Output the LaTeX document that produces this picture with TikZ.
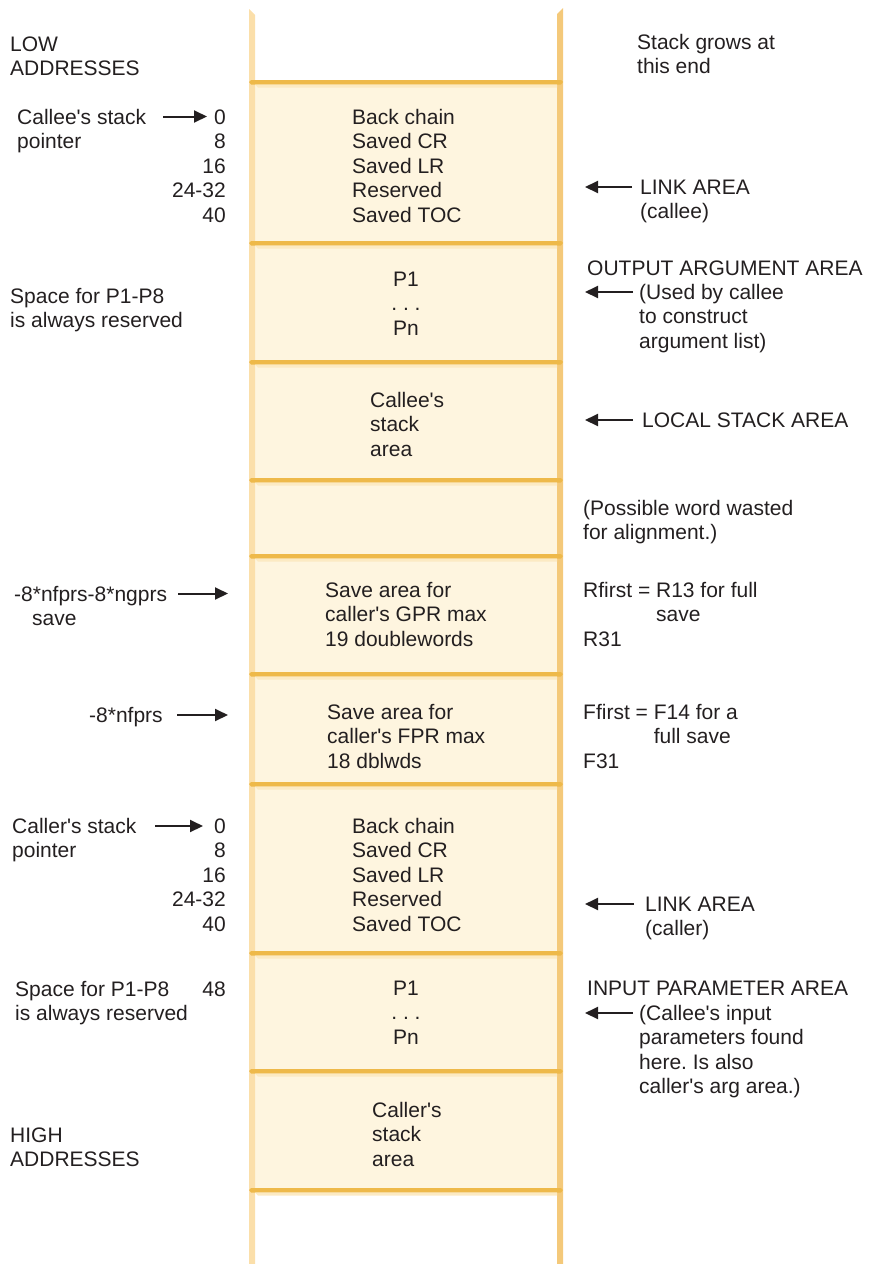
\documentclass[tikz,border=0pt]{standalone}
\usepackage{fontspec}
\newfontfamily\helv{Liberation Sans}
\usetikzlibrary{arrows.meta}
\definecolor{ink}{HTML}{231F20}
\definecolor{bandgold}{HTML}{EEB94A}
\definecolor{bandlight}{HTML}{FCEAC3}
\definecolor{cream}{HTML}{FEF5DF}
\definecolor{stripl}{HTML}{FBDFAA}
\definecolor{stripr}{HTML}{F4C97A}
\frenchspacing
\begin{document}
\begin{tikzpicture}[x=1pt,y=-1pt,
  txt/.style={inner sep=0pt, font=\helv\frenchspacing\fontsize{21}{24.5}\selectfont, text=ink, align=left, anchor=base west},
  rtxt/.style={txt, align=right, anchor=base east},
  ctxt/.style={txt, align=center, anchor=base},
  nl/.style={yshift=-#1*24.5pt},
  arr/.style={draw=ink, line width=2pt, -{Triangle[length=13pt,width=12pt]}}]
\useasboundingbox (0,0) rectangle (869,1264);
% ---- stack column ----
\foreach \t/\b in {84/241, 245/360, 364/478, 482/554, 558/672, 676/782, 786/951, 955/1069, 1073/1188}
  \fill[cream] (255,\t) rectangle (557,\b);
\fill[stripl] (249,9) -- (255,15) -- (255,1264) -- (249,1264) -- cycle;
\fill[stripr] (563,8) -- (557,14) -- (557,1264) -- (563,1264) -- cycle;
\foreach \y in {80, 241, 360, 478, 554, 672, 782, 951, 1069, 1188} {
  \fill[bandgold] (249,\y+2) -- (251,\y) -- (561,\y) -- (563,\y+2) -- (561,\y+4.5) -- (251,\y+4.5) -- cycle;
  \fill[bandlight] (255,\y+4.5) -- (557,\y+4.5) -- (557,\y+7.5) -- (258,\y+7.5) -- cycle;
}
% ---- left labels ----
\node[txt, nl=1] (low) at (10,51) {LOW\\ADDRESSES};
\node[txt, nl=1] (calleesp) at (17,124) {Callee's stack\\pointer};
\node[rtxt, nl=4] (offcallee) at (226,124) {0\\8\\16\\24-32\\40};
\node[txt, nl=1] (space1) at (10,303) {Space for P1-P8\\is always reserved};
\node[txt, nl=1] (gprofs) at (14,601) {-8*nfprs-8*ngprs\\\hspace*{18pt}save};
\node[txt] (fprofs) at (89,722) {-8*nfprs};
\node[txt, nl=1] (callersp) at (12,833) {Caller's stack\\pointer};
\node[rtxt, nl=4] (offcaller) at (226,833) {0\\8\\16\\24-32\\40};
\node[txt, nl=1] (space2) at (15,996) {Space for P1-P8\\is always reserved};
\node[rtxt] (off48) at (226,996) {48};
\node[txt, nl=1] (high) at (10,1142) {HIGH\\ADDRESSES};
% ---- column contents ----
\node[txt, nl=4] (linkcallee) at (352,124) {Back chain\\Saved CR\\Saved LR\\Reserved\\Saved TOC};
\node[ctxt, nl=2] (outargs) at (406,286) {P1\\. . .\\Pn};
\node[txt, nl=2] (calleestack) at (370,407) {Callee's\\stack\\area};
\node[txt, nl=2] (gprsave) at (325,597) {Save area for\\caller's GPR max\\19 doublewords};
\node[txt, nl=2] (fprsave) at (327,719) {Save area for\\caller's FPR max\\18 dblwds};
\node[txt, nl=4] (linkcaller) at (352,833) {Back chain\\Saved CR\\Saved LR\\Reserved\\Saved TOC};
\node[ctxt, nl=2] (inparams) at (406,995) {P1\\. . .\\Pn};
\node[txt, nl=2] (callerstack) at (372,1117) {Caller's\\stack\\area};
% ---- right labels ----
\node[txt, nl=1] (grows) at (637,49) {Stack grows at\\this end};
\node[txt, nl=1] (linkarea1) at (640,194) {LINK AREA\\(callee)};
\node[txt] (outarea) at (587,275) {OUTPUT ARGUMENT AREA};
\node[txt, nl=2] (outnote) at (639,299) {(Used by callee\\to construct\\argument list)};
\node[txt] (localarea) at (642,427) {LOCAL STACK AREA};
\node[txt, nl=1] (wasted) at (583,515) {(Possible word wasted\\for alignment.)};
\node[txt, nl=2] (rfirst) at (583,597) {Rfirst = R13 for full\\\phantom{Rfirst = }save\\R31};
\node[txt, nl=2] (ffirst) at (583,719) {Ffirst = F14 for a\\\phantom{Ffirst = }full save\\F31};
\node[txt, nl=1] (linkarea2) at (645,911) {LINK AREA\\(caller)};
\node[txt] (inarea) at (587,995) {INPUT PARAMETER AREA};
\node[txt, nl=3] (innote) at (639,1020) {(Callee's input\\parameters found\\here. Is also\\caller's arg area.)};
% ---- arrows ----
\coordinate (a1s) at (163,116.5); \coordinate (a1e) at (207,116.5);
\coordinate (a2s) at (178,593.5); \coordinate (a2e) at (228,593.5);
\coordinate (a3s) at (177,715);   \coordinate (a3e) at (228,715);
\coordinate (a4s) at (155,826);   \coordinate (a4e) at (203,826);
\coordinate (b1s) at (632,187);   \coordinate (b1e) at (585,187);
\coordinate (b2s) at (633,292);   \coordinate (b2e) at (585,292);
\coordinate (b3s) at (633,420);   \coordinate (b3e) at (585,420);
\coordinate (b4s) at (634,904);   \coordinate (b4e) at (585,904);
\coordinate (b5s) at (633,1013);  \coordinate (b5e) at (585,1013);
\foreach \s/\e in {a1s/a1e, a2s/a2e, a3s/a3e, a4s/a4e, b1s/b1e, b2s/b2e, b3s/b3e, b4s/b4e, b5s/b5e}
  \draw[arr] (\s) -- (\e);
\end{tikzpicture}
\end{document}
